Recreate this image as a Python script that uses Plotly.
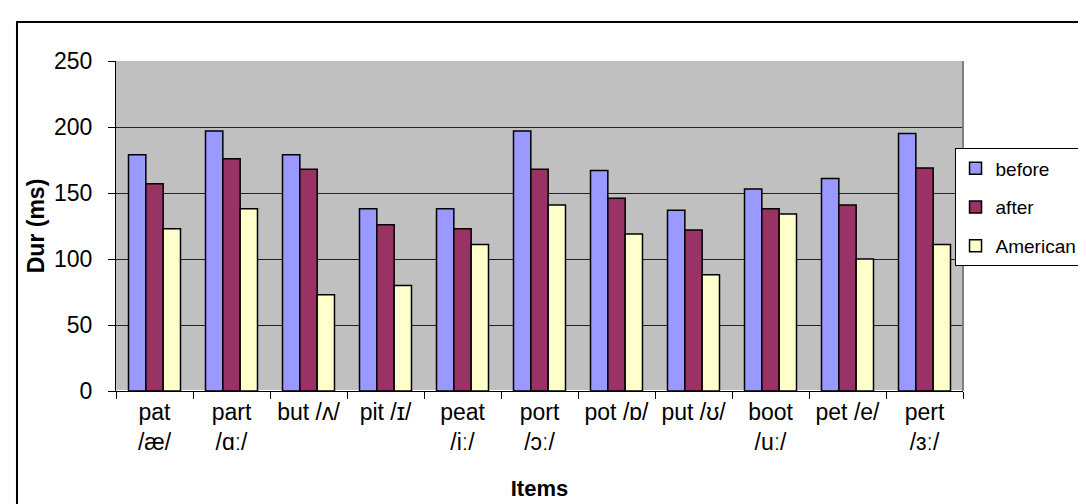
import plotly.graph_objects as go

categories = ["pat<br>/æ/", "part<br>/ɑː/", "but /ʌ/", "pit /ɪ/", "peat<br>/iː/", "port<br>/ɔː/",
              "pot /ɒ/", "put /ʊ/", "boot<br>/uː/", "pet /e/", "pert<br>/ɜː/"]
before = [179, 197, 179, 138, 138, 197, 167, 137, 153, 161, 195]
after = [157, 176, 168, 126, 123, 168, 146, 122, 138, 141, 169]
american = [123, 138, 73, 80, 111, 141, 119, 88, 134, 100, 111]
y_ticks = [0, 50, 100, 150, 200, 250]

series = [("before", before, "#9999FF"), ("after", after, "#993366"), ("American", american, "#FFFFCC")]

fig = go.Figure()
for name, vals, col in series:
    fig.add_trace(go.Bar(x=categories, y=vals, name=name, legendgroup=name,
                         marker=dict(color=col, line=dict(color="black", width=1.5))))

font = "Liberation Sans, Arial, sans-serif"
fig.update_layout(
    width=1086, height=504,
    margin=dict(l=108, r=131, t=53, b=121, autoexpand=False),
    paper_bgcolor="white", plot_bgcolor="#C0C0C0",
    barmode="group", bargap=0.325, bargroupgap=0,
    font=dict(family=font, size=23, color="black"),
    showlegend=True,
    legend=dict(x=0.99, y=0.735, xanchor="left", yanchor="top",
                bgcolor="white", bordercolor="black", borderwidth=1,
                font=dict(size=19), tracegroupgap=11, itemwidth=30),
    xaxis=dict(title=dict(text="<b>Items</b>", font=dict(size=22), standoff=27),
               showline=True, linecolor="black", linewidth=1,
               ticks="outside", ticklen=7, tickcolor="black", tickson="boundaries",
               tickfont=dict(size=23)),
    yaxis=dict(title=dict(text="<b>Dur (ms)</b>", font=dict(size=23), standoff=2),
               range=[0, 250], tickvals=y_ticks,
               showline=True, linecolor="black", linewidth=1,
               ticks="outside", ticklen=7, tickcolor="black", ticklabelstandoff=11,
               showgrid=True, gridcolor="#222222", gridwidth=1,
               tickfont=dict(size=23)),
    shapes=[dict(type="rect", xref="paper", yref="paper",
                 x0=-0.1169, x1=1.16, y0=-0.4, y1=1.118,
                 line=dict(color="black", width=2), fillcolor="rgba(0,0,0,0)", layer="below"),
            dict(type="line", xref="x domain", yref="y domain", x0=1, x1=1, y0=0, y1=1,
                 line=dict(color="#808080", width=2))],
)

fig.write_html("out.html")
